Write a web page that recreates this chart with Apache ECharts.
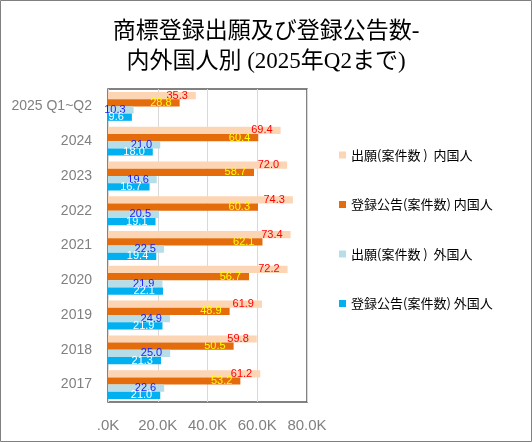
<!DOCTYPE html>
<html>
<head>
    <meta charset="utf-8">
    <title>商標登録出願及び登録公告数</title>
    <script src="https://cdn.jsdelivr.net/npm/echarts@6/dist/echarts.min.js"></script>
    <style>
        body { margin: 0; }
    </style>
</head>
<body>
<div id="main" style="width: 532px;height:442px;"></div>
<script type="text/javascript">
    // 単位: 千件
    var years = ['2025 Q1~Q2', '2024', '2023', '2022', '2021', '2020', '2019', '2018', '2017'];
    var appDomestic = [35.3, 69.4, 72.0, 74.3, 73.4, 72.2, 61.9, 59.8, 61.2];
    var regDomestic = [28.8, 60.4, 58.7, 60.3, 62.1, 56.7, 48.9, 50.5, 53.2];
    var appForeign = [10.3, 21.0, 19.6, 20.5, 22.5, 21.9, 24.9, 25.0, 22.6];
    var regForeign = [9.6, 18.0, 16.7, 19.1, 19.4, 22.1, 21.9, 21.3, 21.0];
    var seriesNames = ['出願(案件数 )  内国人', '登録公告(案件数) 内国人', '出願(案件数 )  外国人', '登録公告(案件数) 外国人'];
    var xTicks = [0, 20, 40, 60, 80];

    var colors = ['#fcd5b4', '#e46c0a', '#b7dee8', '#00b0f0'];
    var labelColors = ['#ff0000', '#ffff00', '#1a1aff', '#ffffff'];
    var allData = [appDomestic, regDomestic, appForeign, regForeign];

    var series = [];
    for (var i = 0; i < allData.length; i++) {
        series.push({
            name: seriesNames[i],
            type: 'bar',
            data: allData[i],
            barGap: '0%',
            barCategoryGap: '17%',
            itemStyle: { color: colors[i] },
            label: {
                show: true,
                position: 'insideRight',
                distance: 8,
                color: labelColors[i],
                fontFamily: 'Liberation Sans, Arial, sans-serif',
                fontSize: 11,
                formatter: function (p) { return p.value.toFixed(1); }
            }
        });
    }

    var chart = echarts.init(document.getElementById('main'));
    chart.setOption({
        animation: false,
        title: {
            text: '商標登録出願及び登録公告数-\n内外国人別 (2025年Q2まで)',
            left: 'center',
            top: 12,
            textStyle: {
                fontFamily: 'Liberation Serif, Noto Sans CJK JP',
                fontSize: 23,
                fontWeight: 'normal',
                lineHeight: 30,
                color: '#000'
            }
        },
        legend: {
            orient: 'vertical',
            left: 334,
            top: 143,
            itemWidth: 7,
            itemHeight: 7,
            itemGap: 35.5,
            icon: 'rect',
            textStyle: {
                fontFamily: 'Noto Sans CJK JP',
                fontSize: 13,
                lineHeight: 14,
                color: '#000'
            },
            data: seriesNames
        },
        grid: {
            left: 108,
            top: 89,
            right: 225,
            bottom: 40,
            show: true,
            borderColor: '#595959',
            borderWidth: 1.5
        },
        xAxis: {
            type: 'value',
            min: xTicks[0],
            max: xTicks[xTicks.length - 1],
            interval: 20,
            axisLine: { show: false },
            axisTick: { show: false },
            splitLine: { lineStyle: { color: '#d9d9d9' } },
            axisLabel: {
                margin: 16,
                color: '#808080',
                fontFamily: 'Liberation Sans, Arial, sans-serif',
                fontSize: 15,
                formatter: function (v) { return v === 0 ? '.0K' : v.toFixed(1) + 'K'; }
            }
        },
        yAxis: {
            type: 'category',
            inverse: true,
            data: years,
            axisLine: { show: false },
            axisTick: { show: false },
            axisLabel: {
                margin: 16,
                color: '#808080',
                fontFamily: 'Liberation Sans, Arial, sans-serif',
                fontSize: 14
            }
        },
        graphic: [{
            type: 'rect',
            shape: { x: 0.5, y: 0.5, width: 531, height: 441 },
            style: { fill: 'none', stroke: '#808080', lineWidth: 1 },
            silent: true
        }],
        series: series
    });
</script>
</body>
</html>
